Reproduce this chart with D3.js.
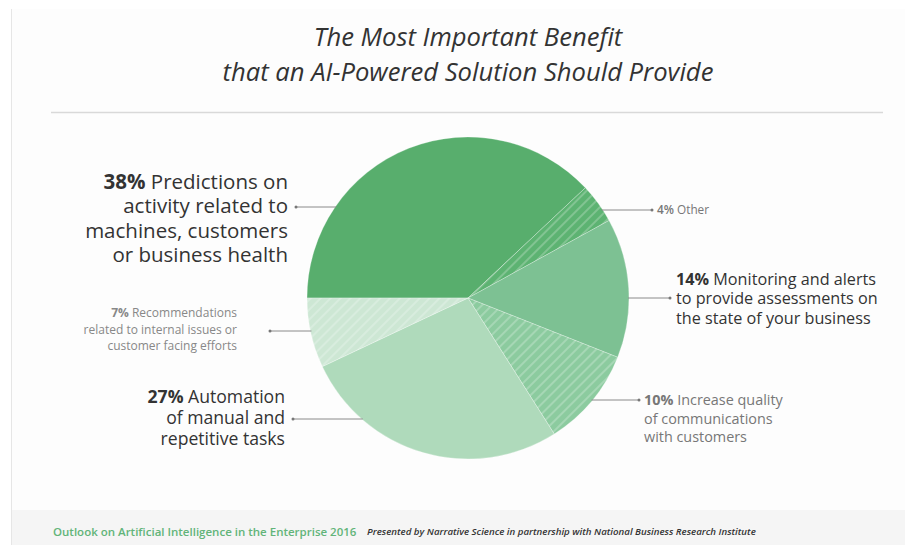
<!DOCTYPE html>
<html>
<head>
<meta charset="utf-8">
<script src="https://cdn.jsdelivr.net/npm/d3@7"></script>
<style>
  html, body { margin: 0; padding: 0; background: #ffffff; }
  svg { display: block; font-family: "Open Sans", "Noto Sans", sans-serif; }
</style>
</head>
<body>
<svg id="chart" width="905" height="545"></svg>
<script>
// ---- data ----
const categories = ["Predictions", "Other", "Monitoring", "Increase quality", "Automation", "Recommendations"];
const values = [38, 4, 14, 10, 27, 7];
const percentLabels = ["38%", "4%", "14%", "10%", "27%", "7%"];
const labelLines = [
  [" Predictions on", "activity related to", "machines, customers", "or business health"],
  [" Other"],
  [" Monitoring and alerts", "to provide assessments on", "the state of your business"],
  [" Increase quality", "of communications", "with customers"],
  [" Automation", "of manual and", "repetitive tasks"],
  [" Recommendations", "related to internal issues or", "customer facing efforts"]
];
const hatched = [false, true, false, true, false, true];
const titleLines = ["The Most Important Benefit", "that an AI-Powered Solution Should Provide"];
const footerMain = "Outlook on Artificial Intelligence in the Enterprise 2016";
const footerSub = "Presented by Narrative Science in partnership with National Business Research Institute";

// ---- styles / layout ----
const colors = ["#58ae6d", "#5db372", "#7dc193", "#8ccb9f", "#afdabb", "#cde7d4"];
const cx = 468, cy = 298, R = 161;
// label layout: side, leader y, dot x, text x, font size, line height, first baseline, colour, weight
const layout = [
  {side: "left",  ly: 207, dot: 296, tx: 288, fs: 20.5, lh: 24.3, y0: 189, col: "#333", bw: 700},
  {side: "right", ly: 210, dot: 652, tx: 657, fs: 11.8, lh: 15, y0: 214, col: "#777", bw: 600},
  {side: "right", ly: 298, dot: 670, tx: 676, fs: 16.2, lh: 19.5, y0: 284.5, col: "#333", bw: 700},
  {side: "right", ly: 400, dot: 639, tx: 644, fs: 14.4, lh: 18.5, y0: 405, col: "#777", bw: 700},
  {side: "left",  ly: 419, dot: 293, tx: 285, fs: 17.6, lh: 21, y0: 402.5, col: "#333", bw: 700},
  {side: "left",  ly: 331, dot: 270, tx: 237, fs: 12, lh: 16.5, y0: 317, col: "#888", bw: 700}
];

const svg = d3.select("#chart");

// frame and footer band
svg.append("rect").attr("x", 11).attr("y", 9).attr("width", 894).attr("height", 536).attr("fill", "#fdfdfd");
svg.append("line").attr("x1", 11.5).attr("x2", 11.5).attr("y1", 9).attr("y2", 545)
  .attr("stroke", "#e6e6e6").attr("stroke-width", 1);
svg.append("rect").attr("x", 12).attr("y", 510).attr("width", 893).attr("height", 35).attr("fill", "#f5f5f5");

// title
svg.append("g").selectAll("text").data(titleLines).join("text")
  .attr("x", 468).attr("y", (d, i) => 46 + i * 35)
  .attr("text-anchor", "middle")
  .attr("font-size", 25.6).attr("font-style", "italic")
  .attr("fill", "#333").text(d => d);

// rule
svg.append("line").attr("x1", 51).attr("x2", 883).attr("y1", 112.5).attr("y2", 112.5)
  .attr("stroke", "#d9d9d9").attr("stroke-width", 1.5);

// hatch patterns
const defs = svg.append("defs");
categories.forEach((c, i) => {
  if (!hatched[i]) return;
  const p = defs.append("pattern").attr("id", "hatch" + i)
    .attr("patternUnits", "userSpaceOnUse").attr("width", 7).attr("height", 7)
    .attr("patternTransform", "rotate(45)");
  p.append("rect").attr("width", 7).attr("height", 7).attr("fill", colors[i]);
  p.append("line").attr("x1", 1).attr("x2", 1).attr("y1", 0).attr("y2", 7)
    .attr("stroke", "#ffffff").attr("stroke-opacity", 0.45).attr("stroke-width", 1);
});

// pie
const pie = d3.pie().sort(null).value(d => d.v)
  .startAngle(-Math.PI / 2).endAngle(1.5 * Math.PI);
const arcs = pie(categories.map((c, i) => ({c, v: values[i], i})));
const arc = d3.arc().innerRadius(0).outerRadius(R);
const g = svg.append("g").attr("transform", `translate(${cx},${cy})`);
g.selectAll("path").data(arcs).join("path")
  .attr("d", arc)
  .attr("fill", d => hatched[d.data.i] ? `url(#hatch${d.data.i})` : colors[d.data.i])
  .attr("stroke", "#ffffff").attr("stroke-opacity", 0.35).attr("stroke-width", 0.8);

// labels with leaders
const lg = svg.append("g");
categories.forEach((c, i) => {
  const L = layout[i];
  const dy = L.ly - cy;
  const half = Math.sqrt(Math.max(0, R * R - dy * dy));
  const edgeX = L.side === "left" ? cx - half + 1 : cx + half - 1;
  lg.append("line").attr("x1", L.dot).attr("x2", edgeX).attr("y1", L.ly).attr("y2", L.ly)
    .attr("stroke", "#8a8a8a").attr("stroke-width", 1);
  lg.append("circle").attr("cx", L.dot).attr("cy", L.ly).attr("r", 1.5).attr("fill", "#777");
  const t = lg.append("text")
    .attr("text-anchor", L.side === "left" ? "end" : "start")
    .attr("font-size", L.fs).attr("fill", L.col);
  labelLines[i].forEach((line, k) => {
    const ts = t.append("tspan").attr("x", L.tx).attr("y", L.y0 + k * L.lh);
    if (k === 0) {
      ts.append("tspan").attr("font-weight", L.bw).text(percentLabels[i]);
      ts.append("tspan").text(line);
    } else {
      ts.text(line);
    }
  });
});

// footer
svg.append("text").attr("x", 53).attr("y", 535.5)
  .attr("font-size", 11.5).attr("font-weight", 600).attr("fill", "#62b479").text(footerMain);
svg.append("text").attr("x", 367).attr("y", 535)
  .attr("font-size", 9.7).attr("font-style", "italic").attr("font-weight", 600)
  .attr("fill", "#333").text(footerSub);
</script>
</body>
</html>
